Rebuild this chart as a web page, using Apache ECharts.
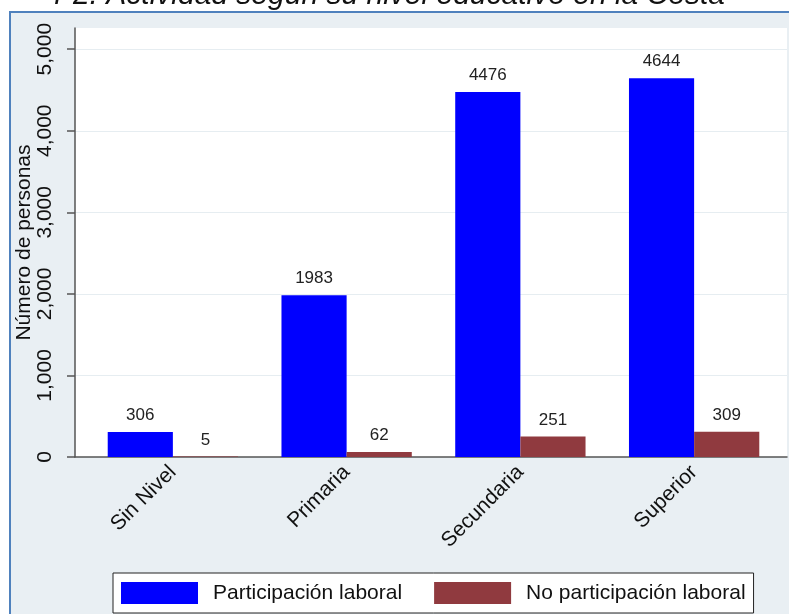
<!DOCTYPE html>
<html><head><meta charset="utf-8">
<script src="https://cdn.jsdelivr.net/npm/echarts@6/dist/echarts.min.js"></script>
<style>html,body{margin:0;padding:0;background:#fff}#c{width:789px;height:614px}</style>
</head><body><div id="c"></div>
<script>
const categories = ['Sin Nivel', 'Primaria', 'Secundaria', 'Superior'];
const participacion = [306, 1983, 4476, 4644];
const noParticipacion = [5, 62, 251, 309];
const yTicks = [0, 1000, 2000, 3000, 4000, 5000];
const seriesNames = ['Participación laboral', 'No participación laboral'];
const titleText = 'r 2. Actividad según su nivel educativo en la Costa';
const yAxisName = 'Número de personas';

const FONT = '"Liberation Sans", Arial, sans-serif';
const YMAX = 5260;
const chart = echarts.init(document.getElementById('c'), null, {renderer: 'canvas'});
const fmt = v => String(v).replace(/\B(?=(\d{3})+(?!\d))/g, ',');

chart.setOption({
  animation: false,
  textStyle: {fontFamily: FONT},
  graphic: [
    {type: 'rect', z: -100, shape: {x: 10, y: 12, width: 820, height: 640},
     style: {fill: '#e9eff3', stroke: '#4f81bd', lineWidth: 2}},
    {type: 'text', z: -50, x: 725, y: 11,
     style: {text: titleText, fontFamily: FONT, fontStyle: 'italic', fontSize: 30,
             fill: '#111', align: 'right', verticalAlign: 'bottom'}}
  ],
  grid: [
    {left: 75, right: 2, top: 28, bottom: 157, show: true, backgroundColor: '#ffffff', borderWidth: 0,
     outerBoundsMode: 'none', containLabel: false},
    {left: 86, right: 8, top: 28, bottom: 157, outerBoundsMode: 'none', containLabel: false}
  ],
  xAxis: [
    {gridIndex: 0, type: 'value', min: 0, max: 1, axisLabel: {show: false}, axisTick: {show: false},
     splitLine: {show: false}, axisLine: {show: true, onZero: false, lineStyle: {color: '#555', width: 1.5}}},
    {gridIndex: 1, type: 'category', data: categories, axisLine: {show: false}, axisTick: {show: false},
     axisLabel: {rotate: 45, fontSize: 21, color: '#111', margin: 12, fontFamily: FONT}}
  ],
  yAxis: [
    {gridIndex: 0, type: 'value', min: 0, max: YMAX, interval: 1000,
     name: yAxisName, nameLocation: 'middle', nameGap: 40, nameMoveOverlap: false,
     nameTextStyle: {fontSize: 21, color: '#111', fontFamily: FONT},
     axisLine: {show: true, lineStyle: {color: '#555', width: 1.5}},
     axisTick: {show: true, length: 8, customValues: yTicks, lineStyle: {color: '#555', width: 1.5}},
     axisLabel: {rotate: 90, fontSize: 21, color: '#111', margin: 19, customValues: yTicks,
                 formatter: v => fmt(v), fontFamily: FONT},
     splitLine: {show: true, lineStyle: {color: '#e6edf1', width: 1}}},
    {gridIndex: 1, type: 'value', min: 0, max: YMAX, show: false, splitLine: {show: false}}
  ],
  legend: {
    left: 113, top: 573, orient: 'horizontal',
    backgroundColor: '#ffffff', borderColor: '#222', borderWidth: 1, borderRadius: 0,
    padding: [9, 8, 9, 8], itemWidth: 77, itemHeight: 22, itemGap: 32,
    icon: 'rect',
    textStyle: {fontSize: 21, color: '#111', padding: [0, 0, 0, 10], fontFamily: FONT},
    data: seriesNames
  },
  series: [
    {name: seriesNames[0], type: 'bar', xAxisIndex: 1, yAxisIndex: 1, data: participacion,
     barGap: '0%', barCategoryGap: '25%', itemStyle: {color: '#0000ff'},
     label: {show: true, position: 'top', distance: 8, fontSize: 17, color: '#222', fontFamily: FONT}},
    {name: seriesNames[1], type: 'bar', xAxisIndex: 1, yAxisIndex: 1, data: noParticipacion,
     barGap: '0%', barCategoryGap: '25%', itemStyle: {color: '#903a3f'},
     label: {show: true, position: 'top', distance: 8, fontSize: 17, color: '#222', fontFamily: FONT}}
  ]
});
</script></body></html>
